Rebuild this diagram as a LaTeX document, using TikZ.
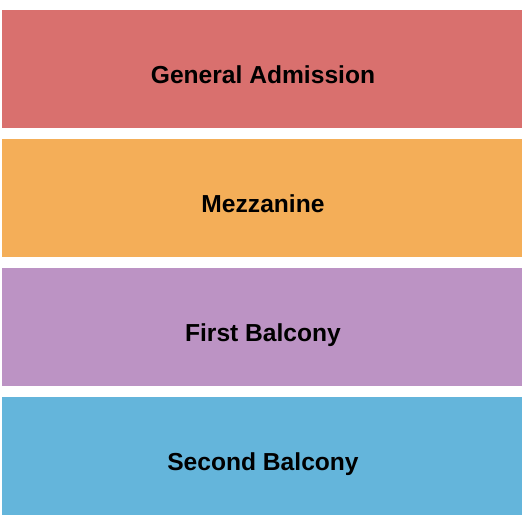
\documentclass[tikz,border=0pt]{standalone}
\usepackage{fontspec}
\setmainfont{Liberation Sans}
\usepackage{tikz}
\usetikzlibrary{positioning}

\definecolor{gaRed}{HTML}{D9706E}
\definecolor{mezOrange}{HTML}{F4AE58}
\definecolor{fbPurple}{HTML}{BC93C4}
\definecolor{sbBlue}{HTML}{64B5DB}

\tikzset{
    tier/.style={inner sep=0pt, minimum width=520pt, minimum height=118pt, anchor=north west},
    tierlabel/.style={anchor=base, font=\fontsize{24.6}{28}\selectfont\bfseries, text=black}
}

\begin{document}
\begin{tikzpicture}[x=1pt, y=-1pt]
    % Page frame
    \useasboundingbox (0,0) rectangle (525,525);

    % Seating tiers
    \foreach \top/\col/\name/\txt in {10/gaRed/ga/General Admission, 139/mezOrange/mez/Mezzanine, 268/fbPurple/fb/First Balcony, 397/sbBlue/sb/Second Balcony} {
        \node[tier, fill=\col] (\name) at (2,\top) {};
        \node[tierlabel] (\name-label) at (263,{\top+73.3}) {\txt};
    }
\end{tikzpicture}
\end{document}
